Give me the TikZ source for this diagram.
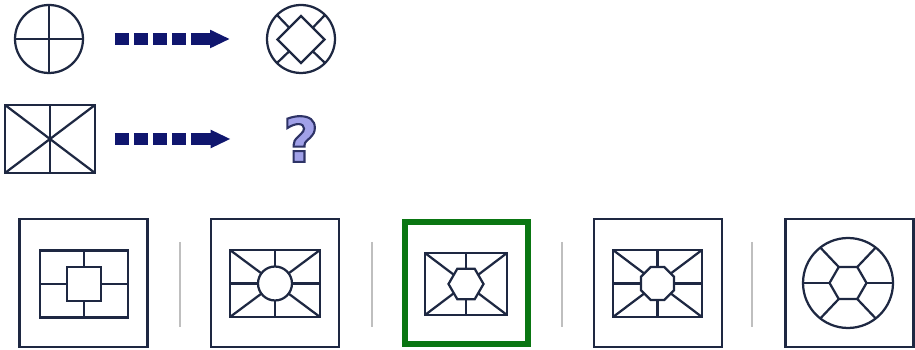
\documentclass[tikz,border=0pt]{standalone}
\usepackage{fontspec}
\usetikzlibrary{shapes.geometric,arrows.meta}
\newfontfamily\qfont{DejaVu Sans}
\definecolor{ink}{RGB}{30,40,66}
\definecolor{navy}{RGB}{16,22,110}
\definecolor{okgreen}{RGB}{10,118,18}
\definecolor{lilac}{RGB}{160,160,232}
\tikzset{
    fig/.style={draw=ink, line width=0.045cm, inner sep=0pt, outer sep=0pt},
    ln/.style={draw=ink, line width=0.045cm},
    frame/.style={fig, minimum size=2.56cm},
    sep/.style={draw=black!25, line width=0.025cm},
    hint/.style={navy, line width=0.24cm,
        dash pattern=on 0.28cm off 0.1cm on 0.28cm off 0.1cm on 0.28cm off 0.1cm on 0.28cm off 0.1cm on 3cm off 0cm,
        -{Triangle[length=0.4cm, width=0.34cm]}}
}
\begin{document}
\begin{tikzpicture}[x=0.02cm, y=-0.02cm]
    \useasboundingbox (0,0) rectangle (915,350);

    % Prima coppia
    \node[fig, circle, minimum size=1.36cm] (c1) at (49,39) {};
    \draw[ln] (c1.north) -- (c1.south);
    \draw[ln] (c1.west) -- (c1.east);
    \node[fig, circle, minimum size=1.36cm] (c2) at (301,39) {};
    \node[fig, diamond, aspect=1, minimum width=0.94cm, minimum height=0.94cm] (d2) at (301,39.5) {};
    \foreach \a in {45,135,225,315} {
        \draw[ln] (d2.\a) -- (c2.\a);
    }
    \draw[hint, shorten <=0.64cm, shorten >=0.74cm] (c1) -- (c2);

    % Opzioni
    \foreach \i/\x in {1/83.5, 2/275, 4/658, 5/849.5} {
        \node[frame] (b\i) at (\x,283) {};
    }
    \node[frame, draw=okgreen, line width=0.12cm, minimum size=2.46cm] (b3) at (466.5,283) {};
    \foreach \x in {180,372,562,752} {
        \draw[sep] (\x,242) -- (\x,327);
    }

    % Opzione 1
    \node[fig, rectangle, minimum width=1.76cm, minimum height=1.34cm] (i1) at (84,284) {};
    \node[fig, rectangle, minimum size=0.68cm] (s1) at (84,284) {};
    \foreach \a in {north,south,east,west} {
        \draw[ln] (i1.\a) -- (s1.\a);
    }

    % Opzione 2
    \node[fig, rectangle, minimum width=1.8cm, minimum height=1.34cm] (i2) at (275,283.5) {};
    \node[fig, circle, minimum size=0.68cm] (o2) at (275,283.5) {};
    \foreach \a in {north,south,east,west,north west,north east,south west,south east} {
        \draw[ln] (i2.\a) -- (o2);
    }

    % Opzione 3
    \node[fig, rectangle, minimum width=1.64cm, minimum height=1.24cm] (i3) at (466,284) {};
    \node[fig, regular polygon, regular polygon sides=6, minimum size=0.7cm] (h3) at (466,284) {};
    \foreach \a in {north,south,north west,north east,south west,south east} {
        \draw[ln] (i3.\a) -- (h3);
    }

    % Opzione 4
    \node[fig, rectangle, minimum width=1.78cm, minimum height=1.34cm] (i4) at (657.5,283.5) {};
    \node[fig, regular polygon, regular polygon sides=8, minimum size=0.71cm] (h4) at (657.5,283.5) {};
    \foreach \a in {north,south,east,west,north west,north east,south west,south east} {
        \draw[ln] (i4.\a) -- (h4);
    }

    % Opzione 5
    \node[fig, circle, minimum size=1.8cm] (o5) at (848,283) {};
    \node[fig, regular polygon, regular polygon sides=6, minimum size=0.74cm] (h5) at (848,283) {};
    \foreach \p/\a in {0/0, 60/52, 120/128, 180/180, 240/232, 300/308} {
        \draw[ln] (h5.\p) -- (o5.\a);
    }

    % Seconda coppia
    \node[fig, rectangle, minimum width=1.8cm, minimum height=1.36cm] (r1) at (50,139) {};
    \draw[ln] (r1.north) -- (r1.south);
    \draw[ln] (r1.north west) -- (r1.south east);
    \draw[ln] (r1.north east) -- (r1.south west);
    \node[minimum width=1.2cm, inner sep=0pt] (q) at (301,139)
        {\qfont\bfseries\fontsize{35}{35}\selectfont
         \special{pdf:literal direct 2 Tr 1.2 w 0.18 0.2 0.4 RG 0.63 0.63 0.91 rg}?\special{pdf:literal direct 0 Tr}};
    \draw[hint, shorten <=0.4cm, shorten >=0.8cm] (r1) -- (q);
\end{tikzpicture}
\end{document}
